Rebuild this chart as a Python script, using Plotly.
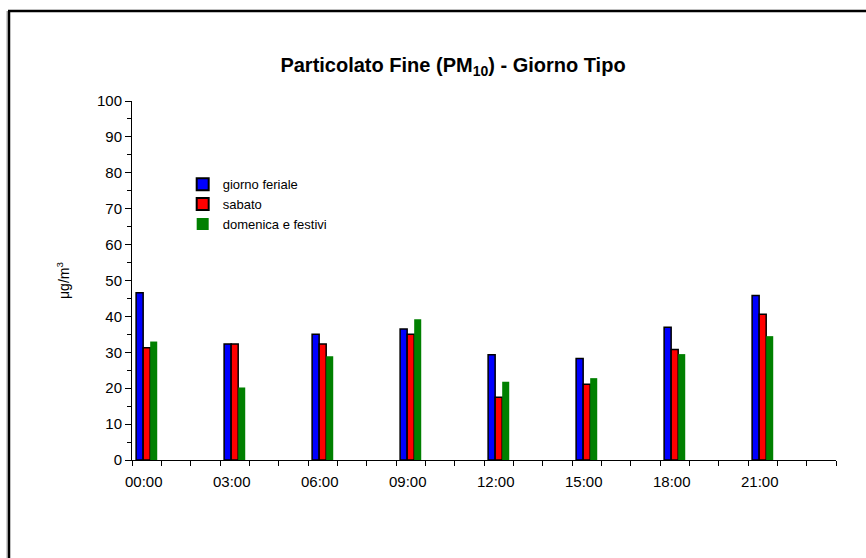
import plotly.graph_objects as go

hours = [f"{h:02d}:00" for h in range(24)]
tick_hours = ["00:00", "03:00", "06:00", "09:00", "12:00", "15:00", "18:00", "21:00"]

# values only every 3 hours (others empty)
feriale = {"00:00": 46.6, "03:00": 32.3, "06:00": 35.0, "09:00": 36.5,
           "12:00": 29.3, "15:00": 28.3, "18:00": 37.0, "21:00": 45.8}
sabato = {"00:00": 31.3, "03:00": 32.3, "06:00": 32.3, "09:00": 35.0,
          "12:00": 17.5, "15:00": 21.1, "18:00": 30.8, "21:00": 40.6}
festivi = {"00:00": 33.0, "03:00": 20.2, "06:00": 28.9, "09:00": 39.2,
           "12:00": 21.8, "15:00": 22.8, "18:00": 29.5, "21:00": 34.5}

x_idx = list(range(24))

def series(d):
    return [d.get(h) for h in hours]

fig = go.Figure()
fig.add_trace(go.Bar(x=x_idx, y=series(feriale), name="giorno feriale",
                     marker=dict(color="#0000FF", line=dict(color="black", width=1.5))))
fig.add_trace(go.Bar(x=x_idx, y=series(sabato), name="sabato",
                     marker=dict(color="#FF0000", line=dict(color="black", width=1.5))))
fig.add_trace(go.Bar(x=x_idx, y=series(festivi), name="domenica e festivi",
                     marker=dict(color="#008000", line=dict(width=0))))

font = "Liberation Sans, Arial, sans-serif"

fig.update_layout(
    width=866, height=558,
    margin=dict(l=132, r=30, t=101, b=98),
    paper_bgcolor="white", plot_bgcolor="white",
    barmode="group", bargap=0.28, bargroupgap=0,
    showlegend=True,
    font=dict(family=font, color="black", size=14),
    title=dict(text="<b>Particolato Fine (PM<sub>10</sub>) - Giorno Tipo</b>",
               x=453 / 866, xanchor="center", y=1 - 65 / 558, yanchor="middle",
               font=dict(size=20, family=font, color="black")),
    legend=dict(x=0.072, y=0.81, xanchor="left", yanchor="top",
                bgcolor="rgba(0,0,0,0)", font=dict(size=13, family=font),
                itemsizing="constant", tracegroupgap=0),
    xaxis=dict(range=[-0.5, 23.5], showline=True, linecolor="black", linewidth=1,
               tickvals=[hours.index(h) - 0.1 for h in tick_hours], ticktext=tick_hours,
               ticks="", showgrid=False, zeroline=False,
               tickfont=dict(size=15), ticklabelstandoff=8,
               minor=dict(tickvals=[i - 0.5 for i in range(25)], ticks="outside",
                          ticklen=5, tickcolor="black", tickwidth=1, showgrid=False)),
    yaxis=dict(range=[0, 100], dtick=10, showline=True, linecolor="black", linewidth=1,
               ticks="outside", ticklen=6, tickcolor="black", showgrid=False,
               zeroline=False, tickfont=dict(size=15),
               minor=dict(dtick=5, ticks="outside", ticklen=4, tickcolor="black", showgrid=False),
               title=dict(text="μg/m<sup>3</sup>", font=dict(size=14), standoff=24)),
)

# outer chart frame (extends past right and bottom edges)
px0, py0 = 132, 460
pw, ph = 704, 359
def xp(px):
    return (px - px0) / pw
def yp(py):
    return (py0 - py) / ph

fig.add_shape(type="line", xref="paper", yref="paper", x0=xp(7), x1=xp(7), y0=yp(11), y1=yp(600),
              line=dict(color="#a0a0a0", width=1))
fig.add_shape(type="line", xref="paper", yref="paper", x0=xp(9), x1=xp(9), y0=yp(11), y1=yp(600),
              line=dict(color="black", width=2.5))
fig.add_shape(type="line", xref="paper", yref="paper", x0=xp(8), x1=xp(900), y0=yp(11), y1=yp(11),
              line=dict(color="black", width=2.5))

fig.write_html("out.html")
